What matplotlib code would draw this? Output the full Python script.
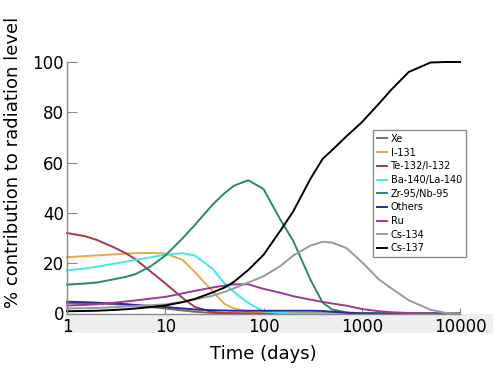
import matplotlib
matplotlib.use("Agg")
import matplotlib.pyplot as plt
from matplotlib.patches import Rectangle

days = [1, 1.5, 2, 3, 4, 5, 7, 10, 15, 20, 30, 40, 50, 70, 100, 150, 200,
        300, 400, 500, 700, 1000, 1500, 2000, 3000, 5000, 7000, 10000]

xe = [4.2, 4.1, 4.0, 3.7, 3.5, 3.2, 2.6, 2.0, 1.2, 0.7, 0.2, 0.1, 0.0, 0, 0, 0, 0,
      0, 0, 0, 0, 0, 0, 0, 0, 0, 0, 0]
i131 = [22.4, 22.8, 23.1, 23.5, 23.8, 24.0, 24.1, 23.9, 21.3, 16.5, 9.0, 3.8, 2.0, 0.6, 0.1, 0, 0,
        0, 0, 0, 0, 0, 0, 0, 0, 0, 0, 0]
te132 = [32.0, 30.8, 29.3, 26.3, 23.9, 21.5, 16.9, 12.0, 6.2, 2.6, 0.6, 0.2, 0.1, 0, 0, 0, 0,
         0, 0, 0, 0, 0, 0, 0, 0, 0, 0, 0]
ba140 = [17.1, 17.9, 18.6, 19.8, 20.6, 21.3, 22.3, 23.4, 24.0, 23.0, 18.0, 12.0, 8.5, 4.2, 0.8, 0.2, 0,
         0, 0, 0, 0, 0, 0, 0, 0, 0, 0, 0]
zr95 = [11.5, 11.9, 12.3, 13.6, 14.6, 15.7, 18.6, 23.0, 29.9, 35.2, 43.1, 47.8, 50.8, 53.0, 49.5, 37.0, 29.0,
        13.5, 4.3, 1.6, 0.4, 0.1, 0, 0, 0, 0, 0, 0]
others = [4.7, 4.5, 4.3, 4.0, 3.7, 3.4, 3.0, 2.6, 2.0, 1.6, 1.3, 1.2, 1.1, 1.1, 1.1, 1.1, 1.1,
          1.1, 1.0, 0.7, 0.3, 0.0, 0, 0, 0, 0, 0, 0]
ru = [3.2, 3.4, 3.7, 4.3, 4.8, 5.2, 5.9, 6.6, 8.0, 9.0, 10.3, 11.1, 11.6, 11.6, 9.8, 8.2, 6.9,
      5.5, 4.6, 4.0, 3.1, 1.8, 0.9, 0.5, 0.2, 0.05, 0, 0]
cs134 = [2.0, 2.1, 2.2, 2.5, 2.8, 3.0, 3.3, 3.6, 4.6, 5.6, 7.0, 8.6, 10.0, 12.3, 14.8, 19.0, 23.0,
         27.0, 28.5, 28.2, 26.0, 20.5, 13.5, 10.0, 5.3, 1.5, 0.3, 0.0]
cs137 = [0.9, 1.0, 1.1, 1.4, 1.7, 2.0, 2.5, 3.2, 4.5, 5.8, 8.3, 10.3, 12.6, 17.3, 23.3, 33.2, 40.5,
         53.5, 61.5, 65.0, 70.5, 76.0, 83.5, 89.0, 96.0, 99.8, 100.0, 100.0]

labels = ["Xe", "I-131", "Te-132/I-132", "Ba-140/La-140", "Zr-95/Nb-95",
          "Others", "Ru", "Cs-134", "Cs-137"]
colors = ["#7f6a55", "#e8a848", "#a83848", "#40e8e8", "#2a8a60",
          "#2a2a9a", "#9a3a9a", "#999999", "#000000"]
series = [xe, i131, te132, ba140, zr95, others, ru, cs134, cs137]

W, H = 500, 385
fig = plt.figure(figsize=(W / 100, H / 100), dpi=100)

# grey band behind x tick labels (drawn under the axes)
band = Rectangle((65 / W, (H - 333) / H), (493 - 65) / W, (333 - 314) / H,
                 transform=fig.transFigure, facecolor="#efefef",
                 edgecolor="none", zorder=-5)
fig.patches.append(band)

ax = fig.add_axes([67 / W, (H - 313.5) / H, (460 - 67) / W, (313.5 - 59.5) / H])
ax.set_zorder(1)
ax.patch.set_alpha(0)

for vals, lab, col in zip(series, labels, colors):
    ax.plot(days, vals, color=col, lw=1.4, label=lab, clip_on=False,
            solid_joinstyle="round")

ax.set_xscale("log")
ax.set_xlim(1, 10000)
ax.set_ylim(0, 101)
ax.set_xticks([1, 10, 100, 1000, 10000])
ax.set_xticklabels(["1", "10", "100", "1000", "10000"])
ax.minorticks_off()
ax.set_yticks([0, 20, 40, 60, 80, 100])

for s in ["top", "right"]:
    ax.spines[s].set_visible(False)
for s in ["left", "bottom"]:
    ax.spines[s].set_color("#8a8a8a")
    ax.spines[s].set_linewidth(1.0)
ax.spines["left"].set_bounds(0, 100)

ax.tick_params(axis="y", direction="in", length=7, color="#8a8a8a", pad=2, labelsize=12)
ax.tick_params(axis="x", direction="in", length=4, color="#8a8a8a", pad=3, labelsize=12)

fig.text(13 / W, (H - 162) / H, "% contribution to radiation level", rotation=90,
         ha="center", va="center", fontsize=13)
fig.text((67 + 460) / 2 / W, (H - 354) / H, "Time (days)", ha="center", va="center", fontsize=13)

leg = ax.legend(loc="upper left", bbox_to_anchor=(373 / W, (H - 130) / H),
                bbox_transform=fig.transFigure, borderaxespad=0, fontsize=7,
                handlelength=1.0, handletextpad=0.4, labelspacing=0.38,
                fancybox=False, framealpha=1, borderpad=0.4)
leg.get_frame().set_edgecolor("#8a8a8a")
leg.get_frame().set_linewidth(1.0)

fig.savefig("out.png", dpi=100)
